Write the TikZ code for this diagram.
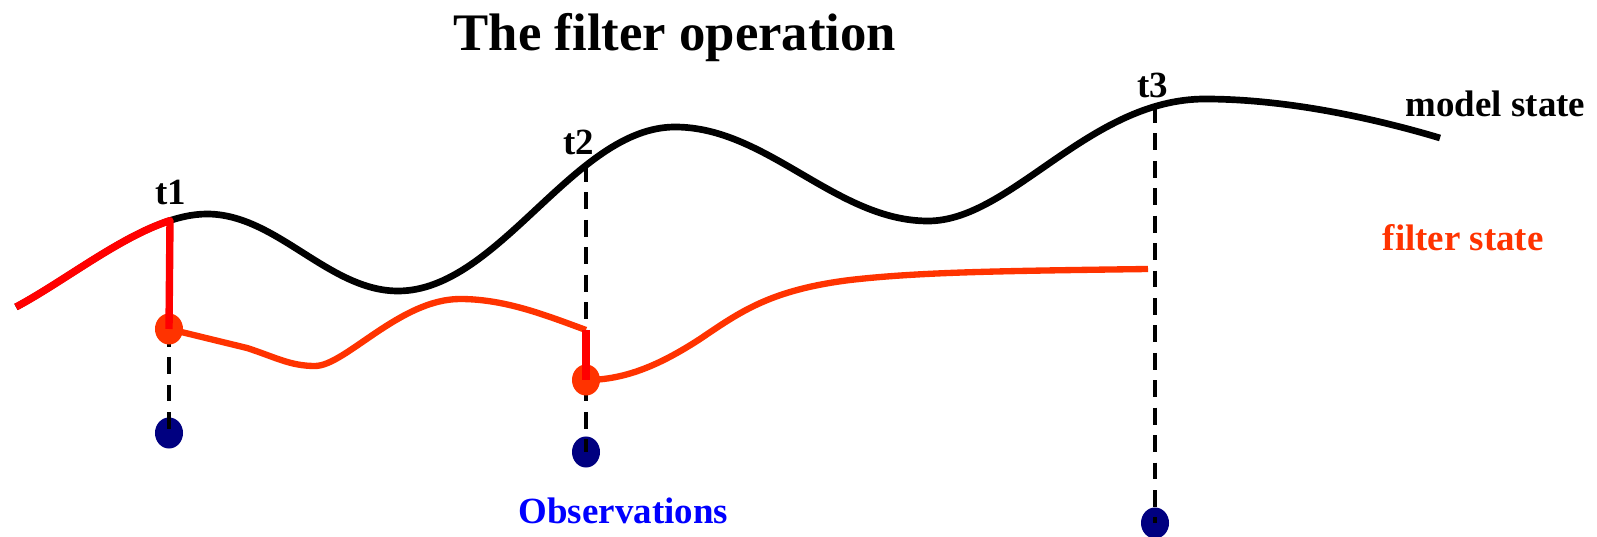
\documentclass[tikz,border=0pt]{standalone}
\usepackage{fontspec}
\setmainfont{Liberation Serif}
\usepackage{tikz}
\usetikzlibrary{shapes.geometric}

\definecolor{filtro}{RGB}{255,51,0}
\definecolor{salto}{RGB}{255,0,0}
\definecolor{oss}{RGB}{0,0,128}
\definecolor{osstesto}{RGB}{0,0,255}

\begin{document}
\begin{tikzpicture}[
    x=0.01cm,
    y=-0.01cm,
    line join=round,
    inner sep=0pt,
    font=\fontsize{10.5}{12}\selectfont\bfseries,
    modello/.style={line width=1.9pt,black},
    filtrato/.style={line width=1.8pt,filtro},
    correzione/.style={line width=2.1pt,salto},
    verticale/.style={line width=1.3pt,dash pattern=on 4.8pt off 3pt},
    puntofiltro/.style={ellipse,fill=filtro,minimum width=0.28cm,minimum height=0.31cm},
    puntooss/.style={ellipse,fill=oss,minimum width=0.28cm,minimum height=0.31cm}
]

% Parametri
\def\xuno{169}
\def\xdue{586}
\def\xtre{1155}

% Cornice
\useasboundingbox (0,0) rectangle (1597,537);

% Titolo
\node[anchor=base,font=\fontsize{15}{18}\selectfont\bfseries] (titolo) at (675,51) {The filter operation};

% Punti sulla curva del modello
\coordinate (m1) at (\xuno,220);
\coordinate (m2) at (\xdue,165);
\coordinate (m3) at (\xtre,106);

% Osservazioni
\node[puntooss] (o1) at (\xuno,433) {};
\node[puntooss] (o2) at (\xdue,452) {};
\node[puntooss] (o3) at (\xtre,523) {};

% Linee tratteggiate
\draw[verticale] (m1) -- (o1.center);
\draw[verticale] (m2) -- (o2.center);
\draw[verticale] (m3) -- (o3.center);

% Curva nera: modello
\draw[modello] (16,307)
    .. controls (76,275) and (147,214) .. (207,214)
    .. controls (276.5,214) and (328.5,291) .. (398,291)
    .. controls (498.8,291) and (574.2,127) .. (675,127)
    .. controls (767,127) and (836,221) .. (928,221)
    .. controls (1011,221) and (1089,99) .. (1205,99)
    .. controls (1290,99) and (1380,120) .. (1440,138);

% Stati del filtro
\node[puntofiltro] (f1) at (\xuno,329) {};
\node[puntofiltro] (f2) at (\xdue,380) {};
\coordinate (a1) at (\xdue,330);
\coordinate (a2) at (1148,269);

\draw[filtrato] (f1.center) -- (247,348)
    .. controls (275,357) and (290,366) .. (315,366)
    .. controls (345,366) and (400,299) .. (460,299)
    .. controls (505,299) and (545,315) .. (a1);
\draw[filtrato] (f2.center)
    .. controls (625,380) and (660,365) .. (700,339)
    .. controls (740,312) and (770,290) .. (850,280)
    .. controls (920,272) and (1000,271) .. (a2);

% Correzioni
\draw[correzione] (16,307) .. controls (64,281.4) and (119,237.2) .. (170,220.6)
    -- (f1.center);
\draw[correzione] (a1) -- (f2.center);

% Testi
\node[anchor=base] (t1) at (171,205) {t1};
\node[anchor=base] (t2) at (579,155) {t2};
\node[anchor=base] (t3) at (1153,98) {t3};
\node[anchor=base west] (lmodello) at (1405,117) {model state};
\node[anchor=base west,text=filtro] (lfiltro) at (1382,251) {filter state};
\node[anchor=base west,text=osstesto] (loss) at (518,523) {Observations};

\end{tikzpicture}
\end{document}
